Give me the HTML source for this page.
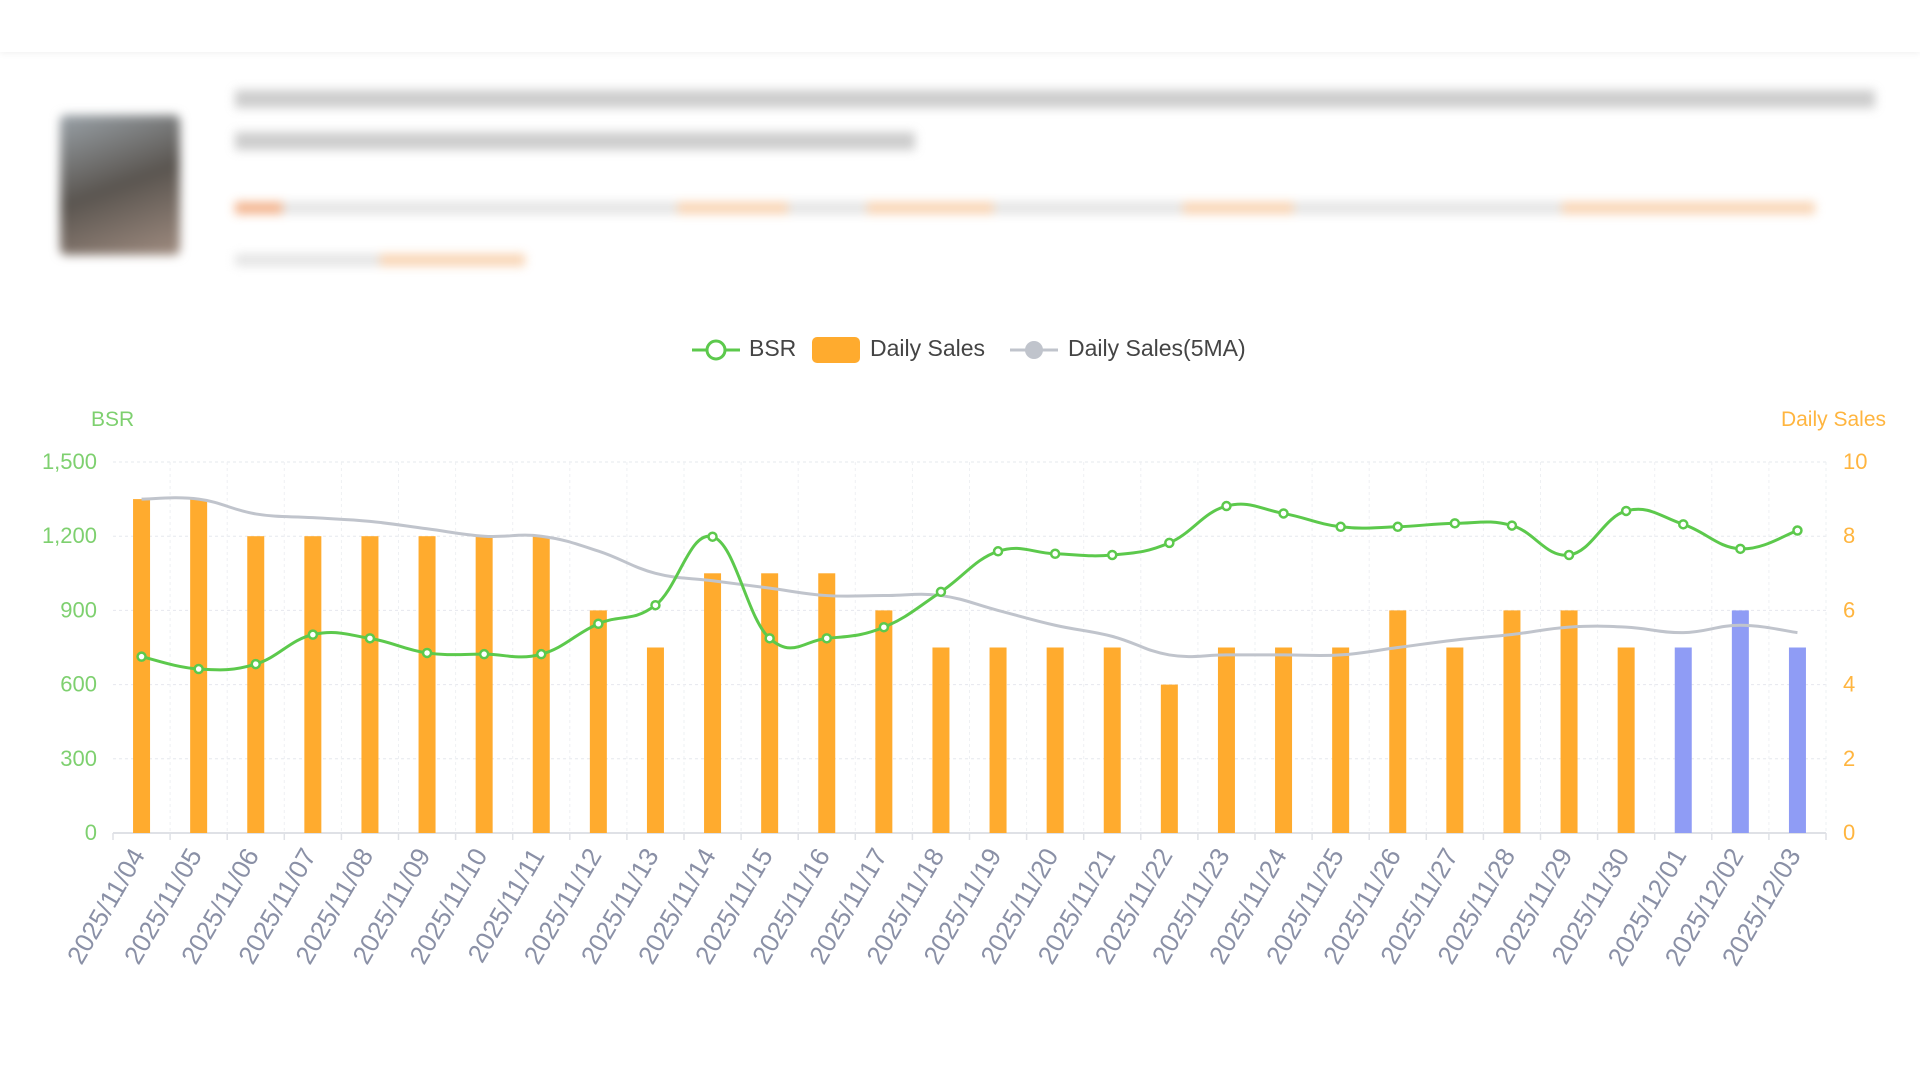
<!DOCTYPE html>
<html><head><meta charset="utf-8"><style>
html,body{margin:0;padding:0;background:#fff;width:1920px;height:1080px;overflow:hidden;font-family:"Liberation Sans","Noto Sans CJK SC",sans-serif}
.blur{position:absolute;filter:blur(5px)}
</style></head><body>
<div style="position:absolute;left:0;top:0;width:1920px;height:52px;background:#fff;box-shadow:0 2px 6px rgba(0,0,0,0.05)"></div>
<div style="position:absolute;left:0;top:60px;width:1920px;height:230px">
 <div class="blur" style="left:60px;top:55px;width:120px;height:140px;background:linear-gradient(160deg,#9aa2a8,#5a5550 50%,#a08c80);border-radius:6px"></div>
 <div class="blur" style="left:235px;top:30px;width:1640px;height:18px;background:#b8b8b8;opacity:.7"></div>
 <div class="blur" style="left:235px;top:72px;width:680px;height:18px;background:#b8b8b8;opacity:.7"></div>
 <div class="blur" style="left:235px;top:142px;width:1580px;height:12px;background:linear-gradient(90deg,#f0a070 0 3%,#ddd 3% 28%,#f7c9a0 28% 35%,#ddd 35% 40%,#f7c9a0 40% 48%,#ddd 48% 60%,#f7c9a0 60% 67%,#ddd 67% 84%,#f7c9a0 84% 100%);opacity:.8"></div>
 <div class="blur" style="left:235px;top:194px;width:290px;height:12px;background:linear-gradient(90deg,#ddd 0 50%,#f7c9a0 50% 100%);opacity:.8"></div>
</div>
<svg id="chart" width="1920" height="1080" style="position:absolute;left:0;top:0" xmlns="http://www.w3.org/2000/svg"></svg>
<script>
const categories=["2025/11/04","2025/11/05","2025/11/06","2025/11/07","2025/11/08","2025/11/09","2025/11/10","2025/11/11","2025/11/12","2025/11/13","2025/11/14","2025/11/15","2025/11/16","2025/11/17","2025/11/18","2025/11/19","2025/11/20","2025/11/21","2025/11/22","2025/11/23","2025/11/24","2025/11/25","2025/11/26","2025/11/27","2025/11/28","2025/11/29","2025/11/30","2025/12/01","2025/12/02","2025/12/03"];
const dailySales=[9,9,8,8,8,8,8,8,6,5,7,7,7,6,5,5,5,5,4,5,5,5,6,5,6,6,5,5,6,5];
const estimated=[0,0,0,0,0,0,0,0,0,0,0,0,0,0,0,0,0,0,0,0,0,0,0,0,0,0,0,1,1,1];
const bsr=[713,663,683,802,787,728,723,723,846,921,1198,787,787,832,975,1139,1129,1124,1173,1322,1292,1238,1238,1252,1243,1124,1302,1248,1149,1223];
const sales5ma=[9,9,8.6,8.5,8.4,8.2,8,8,7.6,7.0,6.8,6.6,6.4,6.4,6.4,6.0,5.6,5.3,4.8,4.8,4.8,4.8,5.0,5.2,5.35,5.55,5.55,5.4,5.6,5.4];
const bsrTicks=[0,300,600,900,1200,1500];
const salesTicks=[0,2,4,6,8,10];

const svg=document.getElementById('chart');
const NS='http://www.w3.org/2000/svg';
const L=113,R=1826,T=462,B=833;
const bw=(R-L)/categories.length;
const xC=i=>L+bw*(i+0.5);
const yB=v=>B-(v/1500)*(B-T);
const yS=v=>B-(v/10)*(B-T);
function mk(tag,attrs,parent){const e=document.createElementNS(NS,tag);for(const k in attrs)e.setAttribute(k,attrs[k]);(parent||svg).appendChild(e);return e;}
function smooth(pts){let d=`M${pts[0][0]},${pts[0][1]}`;for(let i=0;i<pts.length-1;i++){const p0=pts[Math.max(0,i-1)],p1=pts[i],p2=pts[i+1],p3=pts[Math.min(pts.length-1,i+2)];const t=0.2;
const c1=[p1[0]+(p2[0]-p0[0])*t,p1[1]+(p2[1]-p0[1])*t],c2=[p2[0]-(p3[0]-p1[0])*t,p2[1]-(p3[1]-p1[1])*t];d+=` C${c1[0]},${c1[1]} ${c2[0]},${c2[1]} ${p2[0]},${p2[1]}`;}return d;}

const grid=mk('g',{});
bsrTicks.forEach((t,i)=>{if(t===0)return;const l=mk('line',{x1:L,x2:R,y1:yB(t),y2:yB(t),stroke:'#e6e8ee','stroke-dasharray':'3,3'},grid);});
for(let i=1;i<=categories.length;i++){const l=mk('line',{x1:L+bw*i,x2:L+bw*i,y1:T,y2:B,stroke:'#eef0f3','stroke-dasharray':'3,3'},grid);}
const ax=mk('line',{x1:L,x2:R,y1:B,y2:B,stroke:'#dfe1e6','stroke-width':2});
for(let i=0;i<=categories.length;i++){const tk=mk('line',{x1:L+bw*i,x2:L+bw*i,y1:B,y2:B+7,stroke:'#dfe1e6','stroke-width':1.5});}

categories.forEach((c,i)=>{const h=B-yS(dailySales[i]);const r=mk('rect',{x:xC(i)-8.5,y:yS(dailySales[i]),width:17,height:h,fill:estimated[i]?'#8f9cf5':'#ffab2e'});});

const ma=mk('path',{d:smooth(sales5ma.map((v,i)=>[xC(i),yS(v)])),fill:'none',stroke:'#c0c4cc','stroke-width':3});
const bl=mk('path',{d:smooth(bsr.map((v,i)=>[xC(i),yB(v)])),fill:'none',stroke:'#5cc94c','stroke-width':3});
bsr.forEach((v,i)=>{const p=mk('circle',{cx:xC(i),cy:yB(v),r:4,fill:'#fff',stroke:'#5cc94c','stroke-width':2.5});});

bsrTicks.forEach(t=>{const e=mk('text',{x:97,y:yB(t)+7,'text-anchor':'end','font-size':22,fill:'#7ed06f'});e.textContent=t.toLocaleString('en-US');});
salesTicks.forEach(t=>{const e=mk('text',{x:1843,y:yS(t)+7,'font-size':22,fill:'#ffb53f'});e.textContent=t;});
let e=mk('text',{x:91,y:426,'font-size':21,fill:'#7ed06f'});e.textContent='BSR';
e=mk('text',{x:1886,y:426,'text-anchor':'end','font-size':21,fill:'#ffb53f'});e.textContent='Daily Sales';
categories.forEach((c,i)=>{const x=xC(i)+4,y=B+22;const t=mk('text',{x:x,y:y,'text-anchor':'end','font-size':26,fill:'#8a90a6',transform:`rotate(-60 ${x} ${y})`});t.textContent=c;});

const lg=mk('g',{});
let g=mk('g',{},lg);
mk('line',{x1:692,x2:740,y1:350,y2:350,stroke:'#5cc94c','stroke-width':3},g);mk('circle',{cx:716,cy:350,r:9,fill:'#fff',stroke:'#5cc94c','stroke-width':3},g);
let tx=mk('text',{x:749,y:356,'font-size':23,fill:'#444'},g);tx.textContent='BSR';
g=mk('g',{},lg);
mk('rect',{x:812,y:337,width:48,height:26,rx:5,fill:'#ffab2e'},g);
tx=mk('text',{x:870,y:356,'font-size':23,fill:'#444'},g);tx.textContent='Daily Sales';
g=mk('g',{},lg);
mk('line',{x1:1010,x2:1058,y1:350,y2:350,stroke:'#c0c4cc','stroke-width':3},g);mk('circle',{cx:1034,cy:350,r:9,fill:'#c0c4cc'},g);
tx=mk('text',{x:1068,y:356,'font-size':23,fill:'#444'},g);tx.textContent='Daily Sales(5MA)';
</script>
</body></html>
